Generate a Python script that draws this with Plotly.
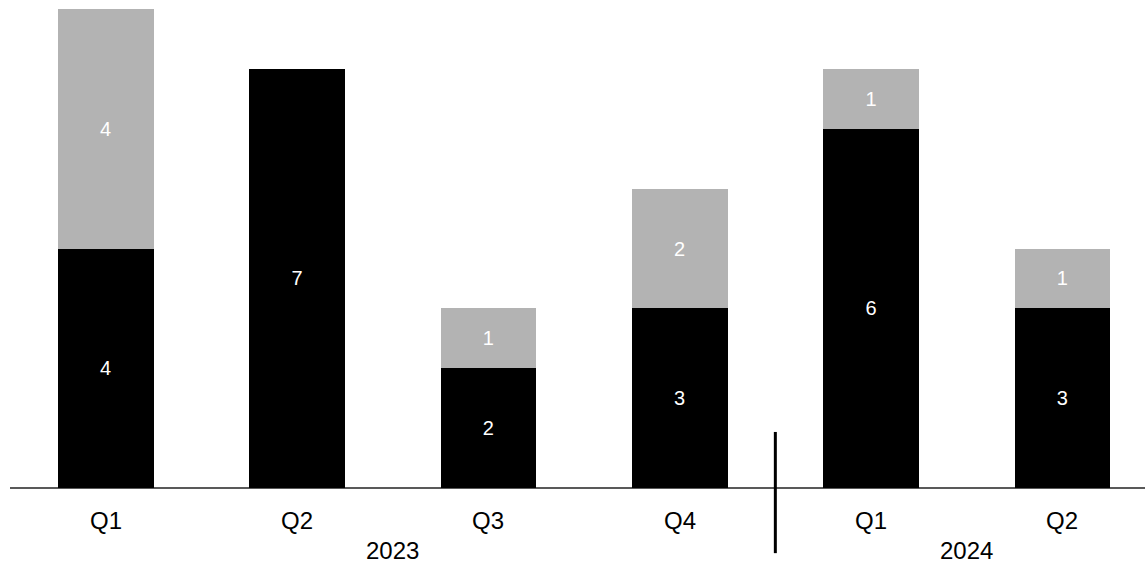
import plotly.graph_objects as go

quarters = ["Q1", "Q2", "Q3", "Q4", "Q1", "Q2"]
years = ["2023", "2023", "2023", "2023", "2024", "2024"]
black_vals = [4, 7, 2, 3, 6, 3]
gray_vals = [4, None, 1, 2, 1, 1]

x = list(range(len(quarters)))

label_font = dict(color="white", size=20, family="Liberation Sans, Arial")

fig = go.Figure()
fig.add_trace(go.Bar(
    x=x, y=black_vals, width=0.5,
    marker=dict(color="#000000", line=dict(width=0)),
    text=[str(v) for v in black_vals], textposition="inside",
    insidetextanchor="middle", textfont=label_font,
    hoverinfo="skip", showlegend=False,
))
fig.add_trace(go.Bar(
    x=x, y=gray_vals, width=0.5,
    marker=dict(color="#b3b3b3", line=dict(width=0)),
    text=["" if v is None else str(v) for v in gray_vals], textposition="inside",
    insidetextanchor="middle", textfont=label_font,
    hoverinfo="skip", showlegend=False,
))

annotations = []
for i, q in enumerate(quarters):
    annotations.append(dict(
        x=i, y=0, xref="x", yref="y", text=q, showarrow=False,
        yanchor="middle", xanchor="center", yshift=-32,
        font=dict(size=24, color="#000000", family="Liberation Sans, Arial"),
    ))

# year labels centered under each group
groups = {}
for i, yr in enumerate(years):
    groups.setdefault(yr, []).append(i)
for yr, idx in groups.items():
    annotations.append(dict(
        x=sum(idx) / len(idx), y=0, xref="x", yref="y", text=yr, showarrow=False,
        yanchor="middle", xanchor="center", yshift=-62,
        font=dict(size=24, color="#000000", family="Liberation Sans, Arial"),
    ))

# separator between year groups
sep_x = None
for i in range(1, len(years)):
    if years[i] != years[i - 1]:
        sep_x = i - 0.5
shapes = [dict(type="line", xref="x", yref="paper", x0=sep_x, x1=sep_x,
               y0=-0.136, y1=0.117, line=dict(color="#000000", width=3))]

fig.update_layout(
    barmode="stack",
    width=1145, height=564,
    margin=dict(l=10, r=0, t=9, b=76),
    paper_bgcolor="white", plot_bgcolor="white",
    font=dict(family="Liberation Sans, Arial", color="#000000"),
    xaxis=dict(range=[-0.5, 5.432], showgrid=False, zeroline=False,
               showticklabels=False, showline=False, fixedrange=True),
    yaxis=dict(range=[0, 8], showgrid=False, zeroline=True,
               zerolinecolor="#595959", zerolinewidth=2,
               showticklabels=False, showline=False, fixedrange=True),
    annotations=annotations,
    shapes=shapes,
)

fig.write_html(
    "out.html",
    config={"displayModeBar": False},
    post_script="document.body.style.margin='0';document.body.style.padding='0';"
                "document.body.style.overflow='hidden';",
)
